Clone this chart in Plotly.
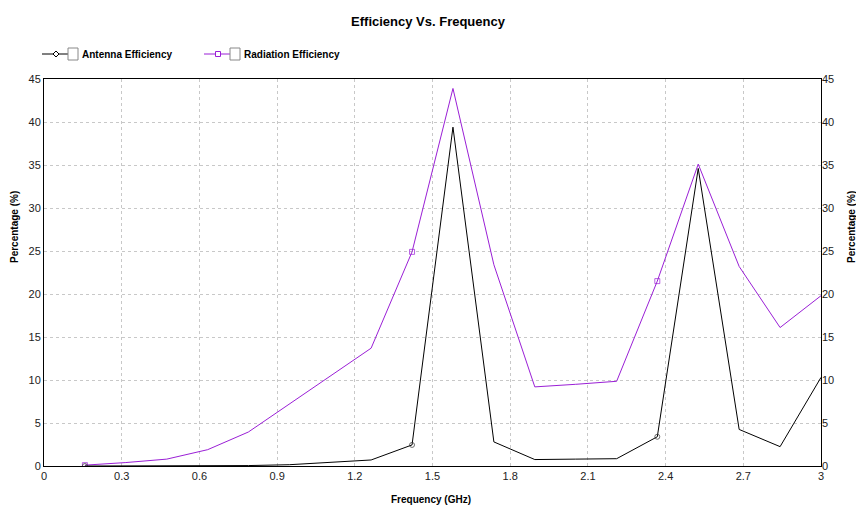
import plotly.graph_objects as go

freq = [0.158, 0.316, 0.474, 0.632, 0.789, 0.947, 1.105, 1.263, 1.421, 1.579,
        1.737, 1.895, 2.053, 2.211, 2.368, 2.526, 2.684, 2.842, 3.0]
antenna_eff = [0.0, 0.0, 0.0, 0.0, 0.05, 0.15, 0.4, 0.7, 2.45, 39.4,
               2.8, 0.75, 0.8, 0.85, 3.4, 34.6, 4.25, 2.25, 10.3]
radiation_eff = [0.1, 0.4, 0.8, 1.9, 3.95, 7.2, 10.4, 13.7, 24.9, 43.9,
                 23.4, 9.2, 9.5, 9.85, 21.5, 35.1, 23.2, 16.1, 19.8]
marker_idx = [0, 8, 14]
x_ticks = [0, 0.3, 0.6, 0.9, 1.2, 1.5, 1.8, 2.1, 2.4, 2.7, 3.0]
x_tick_labels = ["0", "0.3", "0.6", "0.9", "1.2", "1.5", "1.8", "2.1", "2.4", "2.7", "3"]
y_ticks = [0, 5, 10, 15, 20, 25, 30, 35, 40, 45]

FONT = "Liberation Sans Narrow, Arial Narrow, Liberation Sans, Arial, sans-serif"
BLACK = "#000000"
PURPLE = "#9a1fd6"

def sizes(n, idx, s):
    return [s if i in idx else 0 for i in range(n)]

fig = go.Figure()
fig.add_trace(go.Scatter(
    x=freq, y=radiation_eff, mode="lines+markers", name="Radiation Efficiency",
    line=dict(color=PURPLE, width=1),
    marker=dict(symbol="square-open", size=sizes(len(freq), marker_idx, 5), color=PURPLE,
                line=dict(width=1, color=PURPLE)),
    showlegend=False))
fig.add_trace(go.Scatter(
    x=freq, y=antenna_eff, mode="lines+markers", name="Antenna Efficiency",
    line=dict(color=BLACK, width=1),
    marker=dict(symbol="circle-open", size=sizes(len(freq), marker_idx, 5), color="#333333",
                line=dict(width=1, color="#333333")),
    showlegend=False))
# invisible trace to keep right axis
fig.add_trace(go.Scatter(x=[freq[0]], y=[radiation_eff[0]], yaxis="y2", mode="markers",
                         marker=dict(opacity=0), showlegend=False, hoverinfo="skip"))

axis_common = dict(
    showline=True, linecolor=BLACK, linewidth=1, mirror=True,
    gridcolor="#c8c8c8", griddash="3px,3px", gridwidth=1,
    ticks="", tickfont=dict(family=FONT, size=11, color="#222222"),
    zeroline=False, automargin=False,
)

fig.update_layout(
    width=856, height=507,
    margin=dict(l=44, r=35, t=79, b=41),
    paper_bgcolor="white", plot_bgcolor="white",
    title=dict(text="<b>Efficiency Vs. Frequency</b>", x=0.5, xanchor="center", y=0.957, yanchor="middle",
               font=dict(family=FONT, size=13, color=BLACK)),
    xaxis=dict(range=[0, 3], tickvals=x_ticks, ticktext=x_tick_labels, **axis_common),
    yaxis=dict(range=[0, 45], tickvals=y_ticks, **axis_common),
    yaxis2=dict(range=[0, 45], tickvals=y_ticks, overlaying="y", side="right",
                showgrid=False, showline=False, ticks="", zeroline=False, automargin=False,
                tickfont=dict(family=FONT, size=11, color="#222222")),
)

# manual legend and axis titles (paper coords via pixel conversion)
W, H = 856, 507
pl, pr, pt, pb = 44, 35, 79, 41
pw, ph = W - pl - pr, H - pt - pb
def px(x): return (x - pl) / pw
def py(y): return (H - pb - y) / ph

title_font = dict(family=FONT, size=10, color=BLACK)
fig.add_annotation(xref="paper", yref="paper", x=px(431), y=py(499), xanchor="center", yanchor="middle",
                   text="<b>Frequency (GHz)</b>", showarrow=False, font=title_font)
for xx in (14, 851):
    fig.add_annotation(xref="paper", yref="paper", x=px(xx), y=py(227), xanchor="center", yanchor="middle",
                       text="<b>Percentage (%)</b>", showarrow=False, textangle=-90, font=title_font)

legend_items = [("Antenna Efficiency", BLACK, "diamond", 42), ("Radiation Efficiency", PURPLE, "square", 204)]
ly = 54
for label, col, sym, x0 in legend_items:
    fig.add_shape(type="line", xref="paper", yref="paper", x0=px(x0), x1=px(x0 + 26), y0=py(ly), y1=py(ly),
                  line=dict(color=col, width=1))
    cx = x0 + 14
    if sym == "diamond":
        fig.add_shape(type="path", xref="paper", yref="paper",
                      path=f"M {px(cx-3)} {py(ly)} L {px(cx)} {py(ly-3)} L {px(cx+3)} {py(ly)} L {px(cx)} {py(ly+3)} Z",
                      line=dict(color=col, width=1), fillcolor="white")
    else:
        fig.add_shape(type="rect", xref="paper", yref="paper", x0=px(cx - 2.5), x1=px(cx + 2.5),
                      y0=py(ly + 2.5), y1=py(ly - 2.5), line=dict(color=col, width=1), fillcolor="white")
    fig.add_shape(type="rect", xref="paper", yref="paper", x0=px(x0 + 26), x1=px(x0 + 36),
                  y0=py(ly + 6), y1=py(ly - 6), line=dict(color="#888888", width=1), fillcolor="white")
    fig.add_annotation(xref="paper", yref="paper", x=px(x0 + 38), y=py(ly), xanchor="left", yanchor="middle",
                       text=f"<b>{label}</b>", showarrow=False,
                       font=dict(family=FONT, size=10, color=BLACK))

fig.write_html("out.html")
